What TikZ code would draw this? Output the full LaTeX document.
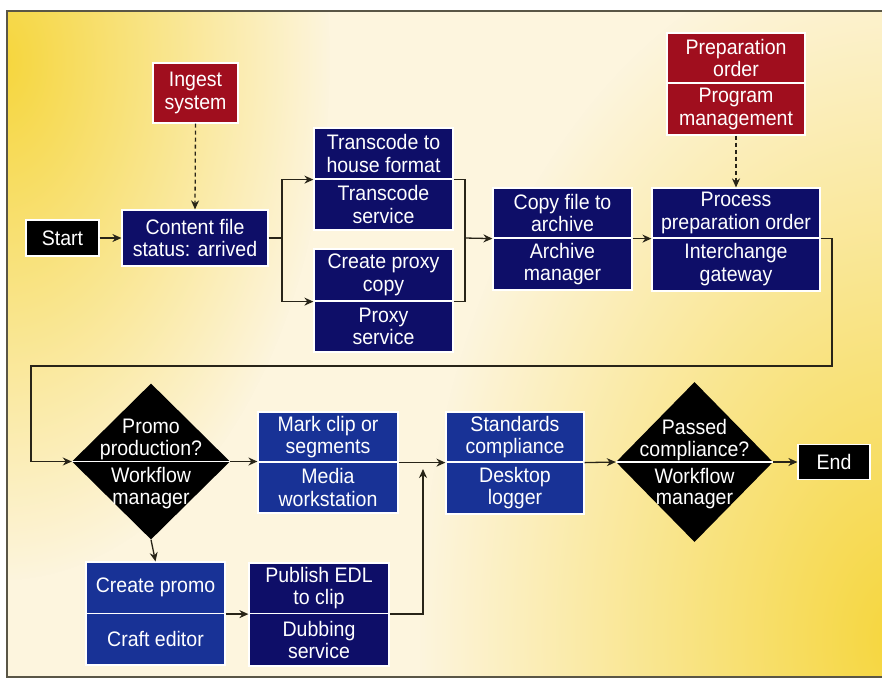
\documentclass[tikz,border=0pt]{standalone}
\usepackage{fontspec}
\setmainfont{Liberation Sans}[FakeStretch=0.93]
\usetikzlibrary{arrows.meta,shapes.geometric,fadings}
\definecolor{navy}{RGB}{14,14,104}
\definecolor{brightblue}{RGB}{24,50,150}
\definecolor{darkred}{RGB}{160,14,30}
\definecolor{cream}{RGB}{253,245,222}
\definecolor{yel}{RGB}{246,214,60}
\definecolor{linec}{RGB}{40,36,24}
\definecolor{framec}{RGB}{90,86,70}
\tikzfading[name=softblob, inner color=transparent!0, outer color=transparent!100]
\begin{document}
\begin{tikzpicture}[x=1pt,y=-1pt,
  cell/.style={draw=white, line width=1.2pt, text=white, align=center, inner sep=0pt,
    font=\fontsize{21}{22.5}\selectfont},
  dia/.style={diamond, fill=black, draw=none, inner sep=0pt, minimum width=158pt, minimum height=156pt},
  dtext/.style={text=white, align=center, inner sep=0pt, font=\fontsize{21}{22}\selectfont},
  arr/.style={draw=linec, line width=1.3pt, -{Stealth[length=9pt,width=8pt]}},
  conn/.style={draw=linec, line width=1.3pt},
  dasharr/.style={draw=linec, line width=1.3pt, dash pattern=on 4pt off 3pt, -{Stealth[length=9pt,width=8pt]}}
]
\useasboundingbox (0,0) rectangle (882,681);
\fill[white] (0,0) rectangle (882,681);
% background
\begin{scope}
\clip (7,11) rectangle (882,677);
\fill[cream] (7,11) rectangle (882,677);
\fill[yel, path fading=softblob] (0,60) ellipse (330 and 520);
\fill[yel, path fading=softblob] (900,640) ellipse (480 and 700);
\end{scope}
\draw[framec, line width=1.5pt] (882,11) -- (7,11) -- (7,677) -- (882,677);

% top row
\node[cell, fill=black, minimum width=73pt, minimum height=36pt] (start) at (62.5,238) {Start};
\node[cell, fill=navy, minimum width=146pt, minimum height=56pt] (cf) at (195,238) {Content file\\status: arrived};
\node[cell, fill=darkred, minimum width=85pt, minimum height=60pt] (ing) at (195.5,93) {Ingest\\system};

\node[cell, fill=navy, minimum width=139pt, minimum height=51pt] (tcA) at (383.5,153.5) {Transcode to\\house format};
\node[cell, fill=navy, minimum width=139pt, minimum height=51pt] (tcB) at (383.5,204.5) {Transcode\\service};
\node[cell, fill=navy, minimum width=139pt, minimum height=52pt] (pxA) at (383.5,275) {Create proxy\\copy};
\node[cell, fill=navy, minimum width=139pt, minimum height=51pt] (pxB) at (383.5,326.5) {Proxy\\service};

\node[cell, fill=navy, minimum width=139pt, minimum height=50pt] (cpA) at (562.5,213) {Copy file to\\archive};
\node[cell, fill=navy, minimum width=139pt, minimum height=52pt] (cpB) at (562.5,264) {Archive\\manager};

\node[cell, fill=navy, minimum width=168pt, minimum height=50pt] (prA) at (736,213) {Process\\preparation order};
\node[cell, fill=navy, minimum width=168pt, minimum height=53pt] (prB) at (736,264.5) {Interchange\\gateway};

\node[cell, fill=darkred, minimum width=138pt, minimum height=50pt] (poA) at (736,58) {Preparation\\order};
\node[cell, fill=darkred, minimum width=138pt, minimum height=52pt] (poB) at (736,109) {Program\\management};

% second row
\node[dia] (d1) at (151,461.5) {};
\draw[white, line width=1.5pt] (d1.west) -- (d1.east);
\node[dtext, anchor=south] (d1q) at ([yshift=1pt]d1.center) {Promo\\production?};
\node[dtext, anchor=north] (d1w) at ([yshift=-6pt]d1.center) {Workflow\\manager};

\node[cell, fill=brightblue, minimum width=140pt, minimum height=50pt] (mkA) at (328,437) {Mark clip or\\segments};
\node[cell, fill=brightblue, minimum width=140pt, minimum height=51pt] (mkB) at (328,487.5) {Media\\workstation};

\node[cell, fill=brightblue, minimum width=138pt, minimum height=50pt] (stA) at (515,437) {Standards\\compliance};
\node[cell, fill=brightblue, minimum width=138pt, minimum height=52pt] (stB) at (515,488) {Desktop\\logger};

\node[dia, minimum width=157pt, minimum height=160pt] (d2) at (694.5,462) {};
\draw[white, line width=1.5pt] (d2.west) -- (d2.east);
\node[dtext, anchor=south, font=\fontsize{21}{21.5}\selectfont] (d2q) at ([yshift=1pt]d2.center) {Passed\\compliance?};
\node[dtext, anchor=north, font=\fontsize{21}{21}\selectfont] (d2w) at ([yshift=-6pt]d2.center) {Workflow\\manager};

\node[cell, fill=black, minimum width=72pt, minimum height=35pt] (end) at (834,462) {End};

% third row
\node[cell, fill=brightblue, minimum width=139pt, minimum height=51.5pt] (crA) at (155.5,587.75) {Create promo};
\node[cell, fill=brightblue, minimum width=139pt, minimum height=51.5pt] (crB) at (155.5,639.25) {Craft editor};
\node[cell, fill=navy, minimum width=140pt, minimum height=50.5pt] (pbA) at (319,588.25) {Publish EDL\\to clip};
\node[cell, fill=navy, minimum width=140pt, minimum height=52.5pt] (pbB) at (319,639.75) {Dubbing\\service};

% routing coordinates
\coordinate (s1) at (282,238);
\coordinate (j1) at (465,238);
\coordinate (r1) at (832,366);
\coordinate (r2) at (31,366);
\coordinate (m1) at (423,469);

% connectors
\draw[arr] (start) -- (cf);
\draw[dasharr] (ing.south) -- (cf.north);
\draw[conn] (cf.east) -- (s1);
\draw[arr] (s1) |- (tcA.south west);
\draw[arr] (s1) |- (pxA.south west);
\draw[conn] (tcA.south east) -| (j1);
\draw[conn] (pxA.south east) -| (j1);
\draw[arr] (j1) -- (cpA.south west);
\draw[arr] (cpA.south east) -- (prA.south west);
\draw[dasharr] (poB.south) -- (prA.north);
\draw[arr] (prA.south east) -| (r1) -- (r2) |- (d1.west);
\draw[arr] (d1.east) -- (d1.east -| mkA.west);
\draw[arr] (mkA.south east) -- (stA.south west);
\draw[arr] (d1.south) -- (crA.north);
\draw[arr] (crA.south east) -- (crA.south east -| pbA.west);
\draw[arr] (pbA.south east) -| (m1);
\draw[arr] (stA.south east) -- (d2.west);
\draw[arr] (d2.east) -- (end.west);
\end{tikzpicture}
\end{document}
